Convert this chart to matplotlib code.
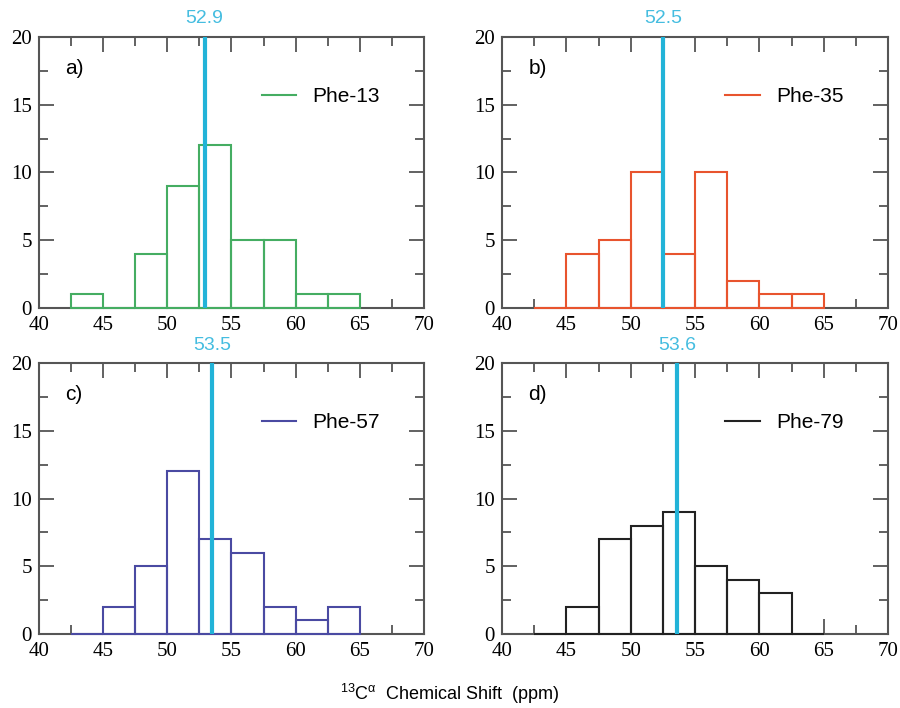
import matplotlib
matplotlib.use('Agg')
import matplotlib.pyplot as plt
import matplotlib.transforms as mtransforms
from matplotlib.lines import Line2D
from matplotlib.ticker import MultipleLocator

# --- data ---
bin_left = [42.5, 45.0, 47.5, 50.0, 52.5, 55.0, 57.5, 60.0, 62.5]
BIN_W = 2.5

counts_13 = [1, 0, 4, 9, 12, 5, 5, 1, 1]
counts_35 = [0, 4, 5, 10, 4, 10, 2, 1, 1]
counts_57 = [0, 2, 5, 12, 7, 6, 2, 1, 2]
counts_79 = [0, 2, 7, 8, 9, 5, 4, 3, 0]

names = ['Phe-13', 'Phe-35', 'Phe-57', 'Phe-79']
panel_tags = ['a)', 'b)', 'c)', 'd)']
means = [52.9, 52.5, 53.5, 53.6]
mean_labels = ['52.9', '52.5', '53.5', '53.6']
all_counts = [counts_13, counts_35, counts_57, counts_79]

# --- styles ---
hist_colors = ['#45ad62', '#e8542e', '#4a4aa2', '#222222']
MEAN_COLOR = '#22b3d8'
MEAN_TEXT = '#45bde0'
SPINE_COLOR = '#555555'
SERIF = 'Liberation Serif'
SANS = 'Liberation Sans'

# upright greek in the axis title
plt.rcParams['mathtext.fontset'] = 'custom'
plt.rcParams['mathtext.rm'] = SANS
plt.rcParams['mathtext.default'] = 'regular'

fig = plt.figure(figsize=(9.0, 7.08), dpi=100)

# axes boxes (left, bottom, width, height) in figure fractions
boxes = [
    (0.0433, 0.565, 0.4278, 0.3828),
    (0.5578, 0.565, 0.4289, 0.3828),
    (0.0433, 0.1045, 0.4278, 0.3828),
    (0.5578, 0.1045, 0.4289, 0.3828),
]

for i in range(4):
    ax = fig.add_axes(boxes[i])
    ax.bar(bin_left, all_counts[i], width=BIN_W, align='edge', fill=False,
           edgecolor=hist_colors[i], linewidth=1.5, zorder=3, clip_on=False)
    ax.axvline(means[i], color=MEAN_COLOR, linewidth=3, zorder=4)

    ax.set_xlim(40, 70)
    ax.set_ylim(0, 20)
    ax.xaxis.set_major_locator(MultipleLocator(5))
    ax.xaxis.set_minor_locator(MultipleLocator(2.5))
    ax.yaxis.set_major_locator(MultipleLocator(5))
    ax.yaxis.set_minor_locator(MultipleLocator(2.5))
    ax.tick_params(which='both', direction='in', top=True, right=True,
                   color=SPINE_COLOR, width=1.3)
    ax.tick_params(which='major', length=11, labelsize=15)
    ax.tick_params(axis='x', which='major', pad=6)
    ax.tick_params(axis='y', which='major', pad=5)
    ax.tick_params(which='minor', length=6.5)
    for lab in ax.get_xticklabels() + ax.get_yticklabels():
        lab.set_fontfamily(SERIF)
    for sp in ax.spines.values():
        sp.set_color(SPINE_COLOR)
        sp.set_linewidth(1.5)

    ax.text(0.068, 0.885, panel_tags[i], transform=ax.transAxes,
            fontsize=15, family=SANS, va='center', ha='left')

    trans = mtransforms.blended_transform_factory(ax.transData, ax.transAxes)
    ax.text(means[i], 1.035, mean_labels[i], transform=trans, color=MEAN_TEXT,
            fontsize=14, family=SANS, ha='center', va='bottom')

    handle = Line2D([], [], color=hist_colors[i], linewidth=1.5)
    leg = ax.legend([handle], [names[i]], loc='center left',
                    bbox_to_anchor=(0.578, 0.779), frameon=False, fontsize=15,
                    handlelength=1.65, handletextpad=0.8, borderpad=0,
                    borderaxespad=0)
    for t in leg.get_texts():
        t.set_fontfamily(SANS)

fig.text(0.5, 0.003, r'$^{13}$C$^{\alpha}$  Chemical Shift  (ppm)',
         ha='center', va='bottom', fontsize=13, family=SANS)

fig.savefig('out.png', dpi=100)
